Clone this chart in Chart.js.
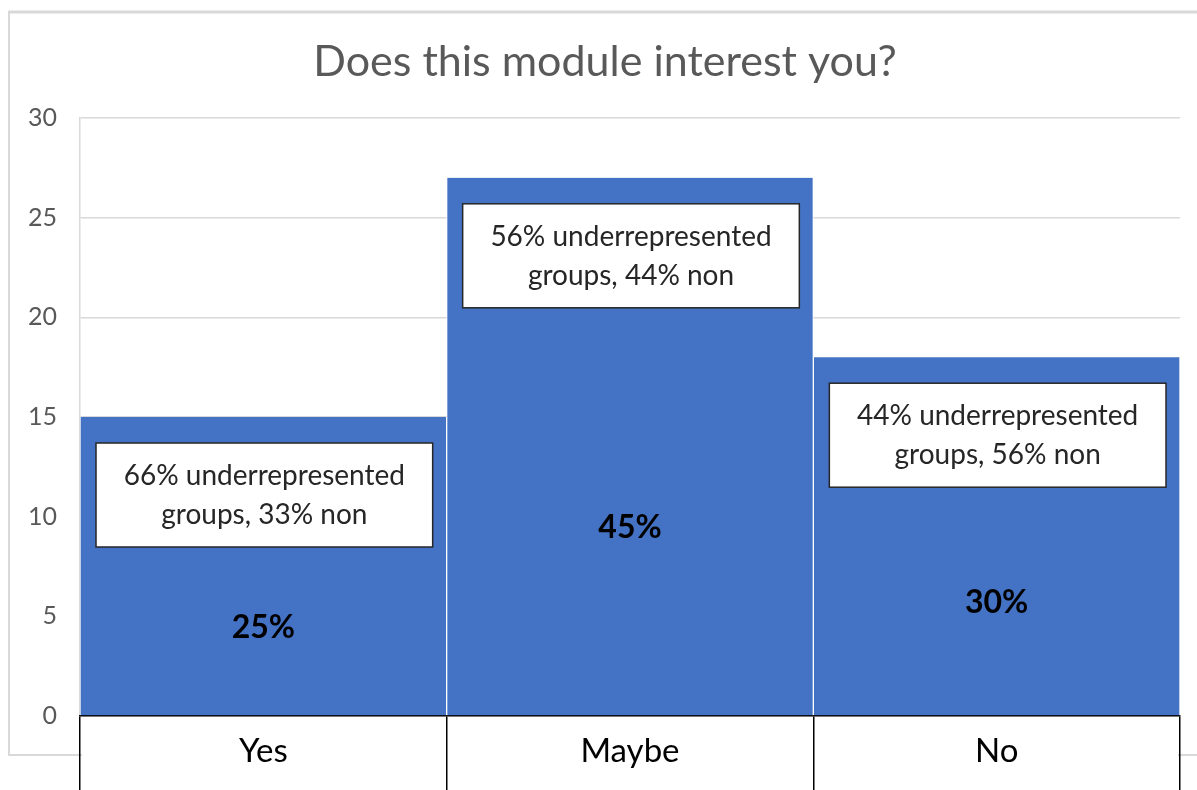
<!DOCTYPE html>
<html>
<head>
<meta charset="utf-8">
<script src="https://cdn.jsdelivr.net/npm/chart.js@4.4.1/dist/chart.umd.min.js"></script>
<style>
  html, body { margin: 0; padding: 0; background: #fff; }
  #wrap { width: 1197px; height: 790px; }
</style>
</head>
<body>
<div id="wrap"><canvas id="chart" width="1197" height="790"></canvas></div>
<script>
// ── data ──
const chartTitle = 'Does this module interest you?';
const categories = ['Yes', 'Maybe', 'No'];
const counts = [15, 27, 18];
const shareLabels = ['25%', '45%', '30%'];
const groupNotes = [
  ['66% underrepresented', 'groups, 33% non'],
  ['56% underrepresented', 'groups, 44% non'],
  ['44% underrepresented', 'groups, 56% non']
];
const yMax = 30;
const yStep = 5;

const FONT = 'Lato, "Open Sans", sans-serif';

// light grey frame of the chart area + title (Excel style)
const framePlugin = {
  id: 'frame',
  beforeDraw(chart) {
    const ctx = chart.ctx;
    ctx.save();
    ctx.strokeStyle = '#d9d9d9';
    ctx.lineWidth = 3;
    ctx.beginPath();
    ctx.moveTo(8, 12); ctx.lineTo(1197, 12);
    ctx.stroke();
    ctx.lineWidth = 2;
    ctx.beginPath();
    ctx.moveTo(9, 11); ctx.lineTo(9, 755); ctx.lineTo(82, 755);
    ctx.moveTo(1178, 755); ctx.lineTo(1197, 755);
    ctx.stroke();

    ctx.fillStyle = '#595959';
    ctx.font = '43px ' + FONT;
    ctx.textAlign = 'center';
    ctx.textBaseline = 'middle';
    ctx.fillText(chartTitle, 605, 62);
    ctx.restore();
  }
};

// white note boxes + bold share inside each bar
const notesPlugin = {
  id: 'notes',
  afterDatasetsDraw(chart) {
    const ctx = chart.ctx;
    const y = chart.scales.y;
    const bars = chart.getDatasetMeta(0).data;
    ctx.save();
    bars.forEach((bar, i) => {
      const left = bar.x - bar.width / 2 + 16;
      const right = bar.x + bar.width / 2 - 14;
      const top = bar.y + 26;
      const h = 104;
      ctx.fillStyle = '#fff';
      ctx.fillRect(left, top, right - left, h);
      ctx.strokeStyle = '#262626';
      ctx.lineWidth = 1.5;
      ctx.strokeRect(left, top, right - left, h);

      ctx.fillStyle = '#262626';
      ctx.font = '28px ' + FONT;
      ctx.textAlign = 'center';
      ctx.textBaseline = 'middle';
      ctx.fillText(groupNotes[i][0], (left + right) / 2, top + 33);
      ctx.fillText(groupNotes[i][1], (left + right) / 2, top + 72);

      // share label: between the box and the base, pulled toward a third of the bar
      const mid = (top + h + bar.base) / 2;
      const third = y.getPixelForValue(counts[i] / 3);
      ctx.fillStyle = '#000';
      ctx.font = 'bold 32px ' + FONT;
      ctx.fillText(shareLabels[i], bar.x, (mid + third) / 2 + 4);
    });
    ctx.restore();
  }
};

new Chart(document.getElementById('chart').getContext('2d'), {
  type: 'bar',
  data: {
    labels: categories,
    datasets: [{
      data: counts,
      backgroundColor: '#4472c4',
      borderColor: '#ffffff',
      borderWidth: { left: 1, right: 1, top: 0, bottom: 0 },
      barPercentage: 1, categoryPercentage: 1
    }]
  },
  options: {
    responsive: false,
    animation: false,
    layout: { padding: { left: 0, right: 17, top: 118, bottom: 0 } },
    plugins: {
      legend: { display: false },
      tooltip: { enabled: false },
      title: { display: false }
    },
    scales: {
      y: {
        min: 0, max: yMax,
        ticks: { stepSize: yStep, color: '#595959', font: { family: FONT, size: 25 }, padding: 23 },
        grid: { color: '#d9d9d9', lineWidth: 1.5, drawTicks: false },
        border: { color: '#d9d9d9', width: 1.5 },
        afterFit: s => { s.width = 80; }
      },
      x: {
        offset: true,
        ticks: { color: '#000', font: { family: FONT, size: 33 }, padding: -64 },
        grid: { offset: true, drawOnChartArea: false, drawTicks: true, tickLength: 80, color: '#000', lineWidth: 1.5 },
        border: { color: '#000', width: 1.5 },
        afterFit: s => { s.height = 74; }
      }
    }
  },
  plugins: [framePlugin, notesPlugin]
});
</script>
</body>
</html>
